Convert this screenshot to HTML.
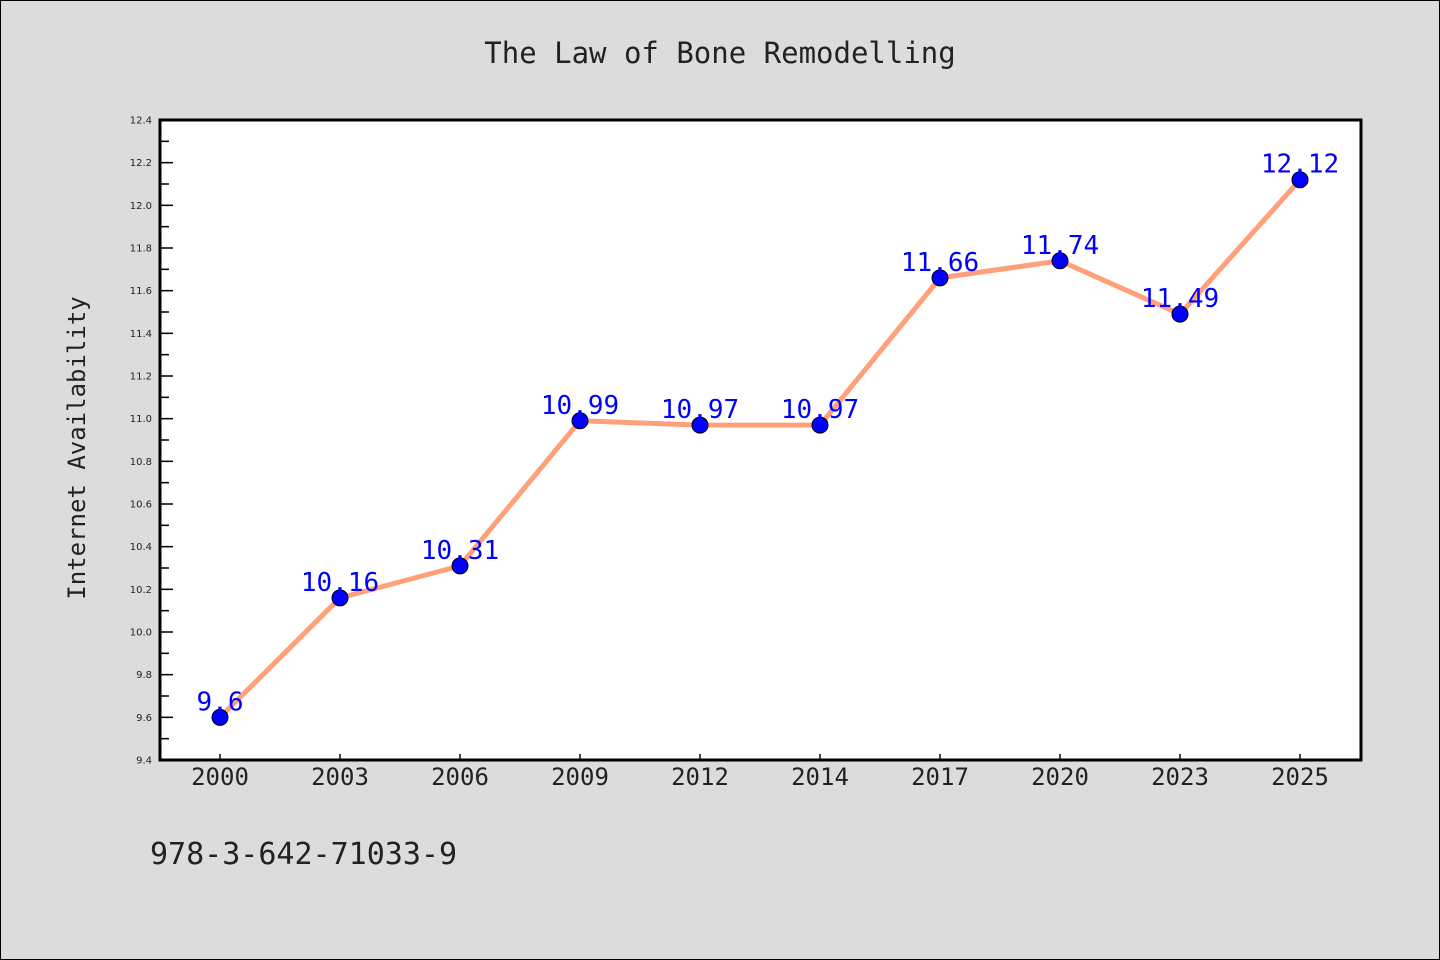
<!DOCTYPE html>
<html><head><meta charset="utf-8"><style>
body{margin:0;background:#dcdcdc;}
svg{display:block;font-family:"DejaVu Sans Mono","Liberation Mono",monospace;}
</style></head><body>
<svg id="chart" width="1440" height="960">
<rect x="0.5" y="0.5" width="1439" height="959" fill="#dcdcdc" stroke="#000" stroke-width="1"/>
<text x="720" y="63" text-anchor="middle" font-size="29" fill="#222">The Law of Bone Remodelling</text>
<rect x="160" y="120" width="1201" height="640" fill="#fff"/>
<g id="axes"></g>
<g id="marks"></g>
<rect x="160" y="120" width="1201" height="640" fill="none" stroke="#000" stroke-width="3"/>
<text transform="translate(85,448) rotate(-90)" text-anchor="middle" font-size="24" fill="#222">Internet Availability</text>
<text x="150" y="864" font-size="30" fill="#222">978-3-642-71033-9</text>
</svg>
<script>
const categories=["2000","2003","2006","2009","2012","2014","2017","2020","2023","2025"];
const values=[9.6,10.16,10.31,10.99,10.97,10.97,11.66,11.74,11.49,12.12];
const valueLabels=["9.6","10.16","10.31","10.99","10.97","10.97","11.66","11.74","11.49","12.12"];
const yTicks=[9.4,9.6,9.8,10.0,10.2,10.4,10.6,10.8,11.0,11.2,11.4,11.6,11.8,12.0,12.2,12.4];
const NS="http://www.w3.org/2000/svg";
const L=160,R=1360,T=120,B=760,ymin=9.4,ymax=12.4;
const band=(R-L)/categories.length;
const xs=i=>L+band*(i+0.5);
const ys=v=>B-(v-ymin)/(ymax-ymin)*(B-T);
function mk(tag,attrs,parent){const e=document.createElementNS(NS,tag);for(const k in attrs)e.setAttribute(k,attrs[k]);parent.appendChild(e);return e;}
const axes=document.getElementById('axes'),marks=document.getElementById('marks');
yTicks.forEach((t,i)=>{
  const y=ys(t);
  const tk=mk('line',{x1:L,x2:L+13,y1:y,y2:y,stroke:'#000','stroke-width':1.5},axes);
  
  
  if(i<yTicks.length-1){const m=mk('line',{x1:L,x2:L+9,y1:ys(t+0.1),y2:ys(t+0.1),stroke:'#000','stroke-width':1.5},axes);
  
  }
  const tx=mk('text',{x:L-8,y:y+3.5,'text-anchor':'end','font-size':10,fill:'#222','font-family':'DejaVu Sans, sans-serif'},axes);
  tx.textContent=t.toFixed(1);
  
  
});
categories.forEach((c,i)=>{
  const x=xs(i);
  const tk=mk('line',{x1:x,x2:x,y1:B,y2:B-6,stroke:'#000','stroke-width':1.5},axes);
  
  
  const tx=mk('text',{x:x,y:B+25,'text-anchor':'middle','font-size':24,fill:'#222'},axes);
  tx.textContent=c;
  
  
});
const pl=mk('polyline',{points:values.map((v,i)=>xs(i)+','+ys(v)).join(' '),fill:'none',stroke:'#ffa07a','stroke-width':5,'stroke-linejoin':'round'},marks);


values.forEach((v,i)=>{
  const c=mk('circle',{cx:xs(i),cy:ys(v),r:8,fill:'#0000ff',stroke:'#000','stroke-width':1},marks);
  
  
});
values.forEach((v,i)=>{
  const t=mk('text',{x:xs(i),y:ys(v)-7,'text-anchor':'middle','font-size':26,fill:'#0000ff'},marks);
  t.textContent=valueLabels[i];
  
  
});
</script>
</body></html>
